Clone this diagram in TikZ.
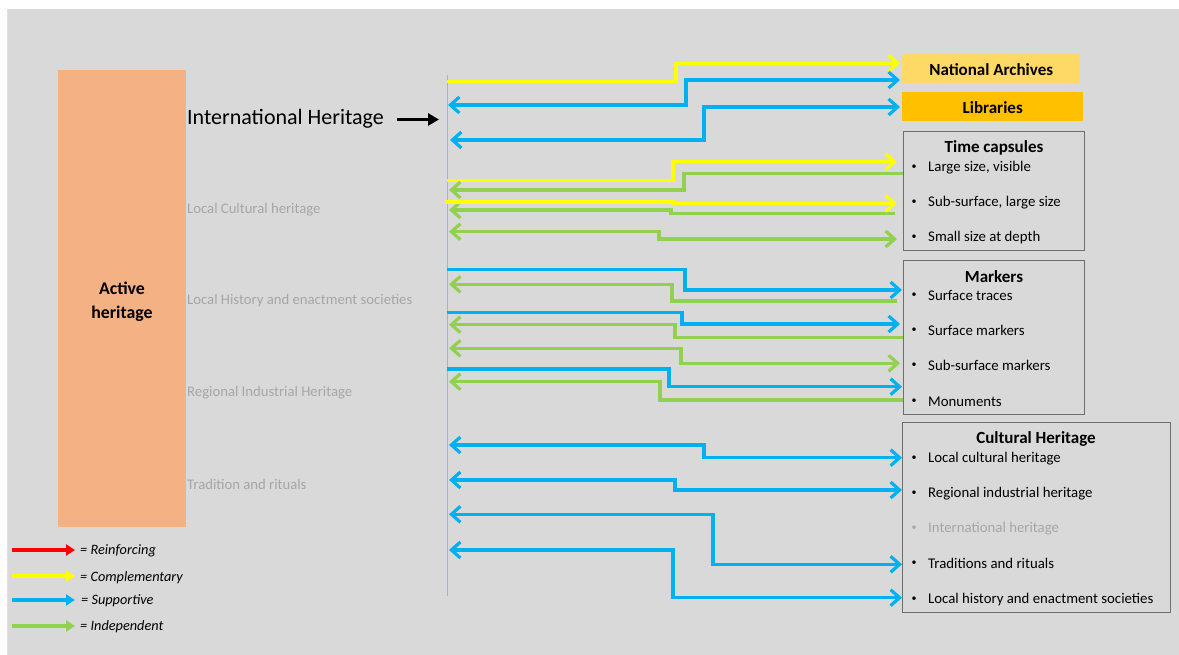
\documentclass[tikz,border=0pt]{standalone}
\usepackage{fontspec}
\setmainfont{Carlito}
\usetikzlibrary{arrows.meta}
\definecolor{bg}{HTML}{D9D9D9}
\definecolor{orng}{HTML}{F4B183}
\definecolor{yel}{HTML}{FFFF00}
\definecolor{blu}{HTML}{00B0F0}
\definecolor{grn}{HTML}{92D050}
\definecolor{rd}{HTML}{FF0000}
\definecolor{lbl}{HTML}{A6A6A6}
\definecolor{archive}{HTML}{FFD966}
\definecolor{libr}{HTML}{FFC000}
\definecolor{boxline}{HTML}{6E6E6E}
\definecolor{vline}{HTML}{A4B2CC}
\tikzset{
  conn/.style={line width=3.2pt},
  barb/.tip={Straight Barb[length=9pt,width=16pt]},
  ybar/.style={conn,yel},
  bbar/.style={conn,blu},
  gbar/.style={conn,grn},
  grouplbl/.style={anchor=west,text=lbl,font=\fontsize{14.7}{16}\selectfont,inner sep=0pt,yshift=-1pt},
  itemlbl/.style={anchor=west,font=\fontsize{14.8}{16}\selectfont,inner sep=0pt,yshift=-1.5pt},
  bulletlbl/.style={font=\fontsize{10}{10}\selectfont,inner sep=0pt,yshift=-1pt},
  titlelbl/.style={font=\bfseries\fontsize{17}{19}\selectfont,inner sep=0pt,yshift=-1.5pt},
  framebox/.style={draw=boxline,line width=1.2pt,anchor=north west,inner sep=0pt},
  legarrow/.style={line width=3.2pt,-{Triangle[length=9pt,width=11pt]}},
  leglbl/.style={anchor=west,font=\itshape\fontsize{14.3}{16}\selectfont,inner sep=0pt,yshift=-1pt},
}
\newcommand\elbow[6]{\draw[#1,#2] (#3) -| (#4,#5) -- (#6,#5);}
\newcommand\itemrow[3][]{\node[bulletlbl,#1] at (914,#2) {•}; \node[itemlbl,#1] at (928,#2) {#3};}
\begin{document}
\begin{tikzpicture}[x=1pt,y=-1pt]
\useasboundingbox (0,0) rectangle (1179,655);
\fill[white] (0,0) rectangle (1179,655);
\fill[bg] (7,9) rectangle (1179,655);
\draw[yel,line width=1pt] (7.5,9) -- (7.5,655);

% active heritage bar
\node[fill=orng,minimum width=128pt,minimum height=457pt,anchor=north west,inner sep=0pt] (active) at (58,70) {};
\node[align=center,font=\bfseries\fontsize{17.8}{24}\selectfont] (activelbl) at (122,302) {Active\\heritage};

% left labels
\node[anchor=west,inner sep=0pt,font=\fontsize{22}{24}\selectfont] (intl) at (187,118.5) {International Heritage};
\node[grouplbl] (lch) at (187,209) {Local Cultural heritage};
\node[grouplbl] (lhe) at (187,300) {Local History and enactment societies};
\node[grouplbl] (rih) at (187,392) {Regional Industrial Heritage};
\node[grouplbl] (tar) at (187,483) {Tradition and rituals};

% vertical line
\coordinate (vtop) at (447,75);
\coordinate (vbot) at (447,596);
\draw[vline,line width=1pt] (vtop) -- (vbot);
\coordinate (intlend) at (439,119.5);
\draw[line width=3.6pt,-{Triangle[length=11pt,width=12pt]}] (397,119.5) -- (intlend);

% right boxes
\node[fill=archive,minimum width=178pt,minimum height=29pt,anchor=north west,inner sep=0pt] (na) at (902,54) {};
\node[titlelbl,yshift=1pt] at (na.center) {National Archives};
\node[fill=libr,minimum width=181pt,minimum height=29pt,anchor=north west,inner sep=0pt] (lib) at (902,92) {};
\node[titlelbl,yshift=1pt] at (lib.center) {Libraries};

\node[framebox,minimum width=181pt,minimum height=119pt] (tc) at (903,131) {};
\node[titlelbl] at (994,146) {Time capsules};
\itemrow{166}{Large size, visible}
\itemrow{201}{Sub-surface, large size}
\itemrow{236}{Small size at depth}

\node[framebox,minimum width=181pt,minimum height=154pt] (mk) at (903,260) {};
\node[titlelbl] at (994,275) {Markers};
\itemrow{294}{Surface traces}
\itemrow{329}{Surface markers}
\itemrow{364}{Sub-surface markers}
\itemrow{400}{Monuments}

\node[framebox,minimum width=268pt,minimum height=190pt] (ch) at (902,422) {};
\node[titlelbl] at (1036,437) {Cultural Heritage};
\itemrow{457}{Local cultural heritage}
\itemrow{492}{Regional industrial heritage}
\itemrow[text=lbl]{527}{International heritage}
\itemrow{562}{Traditions and rituals}
\itemrow{598}{Local history and enactment societies}

% connectors
\elbow{ybar}{-barb}{447,81.7}{676}{63.3}{900}
\elbow{bbar}{barb-barb}{448,105}{686}{80}{900}
\elbow{bbar}{barb-barb}{450,140}{704}{107}{900}
\elbow{ybar}{-barb}{447,180.7}{673}{161.7}{897}
\elbow{gbar}{barb-}{449,190}{684}{173.3}{903}
\elbow{gbar}{barb-}{449,210}{671}{213.3}{895}
\elbow{ybar}{-barb}{445,202}{673}{203.5}{897}
\elbow{gbar}{barb-barb}{449,231.7}{659}{239}{897}

\elbow{bbar}{-barb}{447,269.3}{685}{290}{902}
\elbow{gbar}{barb-}{449,284.3}{672}{301}{897}
\elbow{bbar}{-barb}{447,312.7}{682}{324}{900}
\elbow{gbar}{barb-}{449,324.7}{675}{337.3}{903}
\elbow{gbar}{barb-barb}{449,348.3}{681}{363.3}{900}
\elbow{bbar}{-barb}{447,369}{669}{386.7}{902}
\elbow{gbar}{barb-}{449,381.7}{660}{400}{903}

\elbow{bbar}{barb-barb}{449,445}{704}{457.7}{902}
\elbow{bbar}{barb-barb}{449,480}{675}{490}{902}
\elbow{bbar}{barb-barb}{449,514.3}{713}{564.3}{902}
\elbow{bbar}{barb-barb}{449,550}{673}{597.7}{902}

% legend
\coordinate (lr) at (75,550);
\coordinate (ly) at (75,576);
\coordinate (lb) at (75,600);
\coordinate (lg) at (75,626);
\draw[legarrow,rd] (12,550) -- (lr);
\draw[legarrow,yel] (12,576) -- (ly);
\draw[legarrow,blu] (12,600) -- (lb);
\draw[legarrow,grn] (12,626) -- (lg);
\node[leglbl] at (80,550) {= Reinforcing};
\node[leglbl] at (80,577) {= Complementary};
\node[leglbl] at (81,600) {= Supportive};
\node[leglbl] at (80,626) {= Independent};
\end{tikzpicture}
\end{document}
